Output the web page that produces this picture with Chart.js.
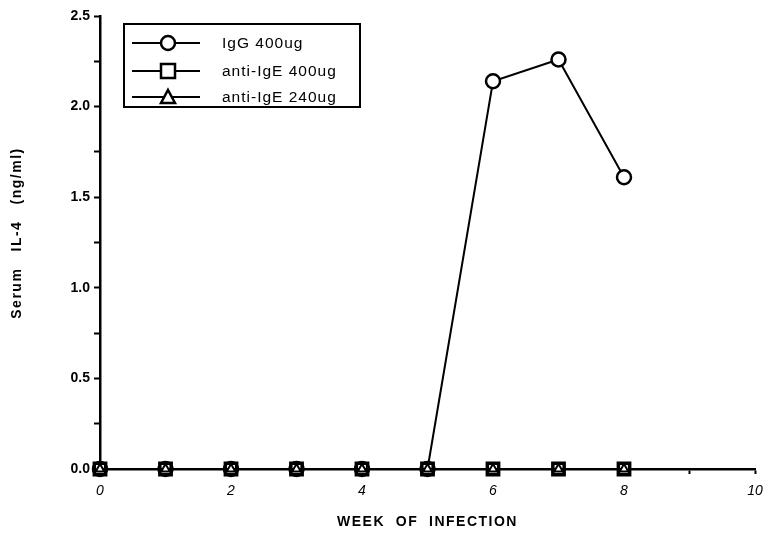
<!DOCTYPE html>
<html>
<head>
<meta charset="utf-8">
<script src="https://cdn.jsdelivr.net/npm/chart.js@4/dist/chart.umd.min.js"></script>
<style>
  html, body { margin: 0; padding: 0; background: #fff; }
  #wrap { width: 765px; height: 539px; }
</style>
</head>
<body>
<div id="wrap"><canvas id="il4Chart"></canvas></div>
<script>
// weeks of infection
const weeks = [0, 1, 2, 3, 4, 5, 6, 7, 8];
// serum IL-4 (ng/ml) per group
const igg400 = [0, 0, 0, 0, 0, 0, 2.14, 2.26, 1.61];
const antiIgE400 = [0, 0, 0, 0, 0, 0, 0, 0, 0];
const antiIgE240 = [0, 0, 0, 0, 0, 0, 0, 0, 0];
const seriesNames = ['IgG 400ug', 'anti-IgE 400ug', 'anti-IgE 240ug'];
const xTickLabels = [0, 2, 4, 6, 8, 10];
const yTickLabels = [0, 0.5, 1.0, 1.5, 2.0, 2.5];
const xTitle = 'WEEK  OF  INFECTION';
const yTitle = 'Serum   IL-4   (ng/ml)';

const FONT = '"Liberation Sans", Arial, sans-serif';

function toPoints(vals) {
    return weeks.map((w, i) => ({ x: w, y: vals[i] }));
}

// legend box + spaced-out axis titles, drawn like the original
const boxLegend = {
    id: 'boxLegend',
    afterDraw(chart) {
        const ctx = chart.ctx;
        const area = chart.chartArea;
        ctx.save();
        ctx.strokeStyle = '#000';
        ctx.lineWidth = 2;
        ctx.strokeRect(124, 24, 236, 83);
        const rows = [43, 71, 97];
        const styles = ['circle', 'rect', 'triangle'];
        rows.forEach((y, i) => {
            ctx.beginPath();
            ctx.moveTo(132, y);
            ctx.lineTo(200, y);
            ctx.lineWidth = 2;
            ctx.stroke();
            ctx.fillStyle = '#fff';
            ctx.lineWidth = 2.5;
            ctx.beginPath();
            if (styles[i] === 'circle') {
                ctx.arc(168, y, 7, 0, Math.PI * 2);
            } else if (styles[i] === 'rect') {
                ctx.rect(161, y - 7, 14, 14);
            } else {
                ctx.moveTo(168, y - 7);
                ctx.lineTo(175, y + 6);
                ctx.lineTo(161, y + 6);
                ctx.closePath();
            }
            ctx.fill();
            ctx.stroke();
            ctx.fillStyle = '#000';
            ctx.font = '15.5px ' + FONT;
            ctx.letterSpacing = '1px';
            ctx.textBaseline = 'middle';
            ctx.fillText(seriesNames[i], 222, y + 1);
            ctx.letterSpacing = '0px';
        });

        // axis titles
        ctx.fillStyle = '#000';
        ctx.font = 'bold 14px ' + FONT;
        ctx.letterSpacing = '1.5px';
        ctx.textAlign = 'center';
        ctx.textBaseline = 'middle';
        ctx.fillText(xTitle, (area.left + area.right) / 2, 522);
        ctx.translate(17, 233);
        ctx.rotate(-Math.PI / 2);
        ctx.fillText(yTitle, 0, 0);
        ctx.restore();
    }
};

const ctx = document.getElementById('il4Chart').getContext('2d');
new Chart(ctx, {
    type: 'line',
    data: {
        datasets: [
            {
                label: seriesNames[0], data: toPoints(igg400), order: 2, clip: false,
                borderColor: '#000', borderWidth: 2, backgroundColor: '#fff',
                pointStyle: 'circle', pointRadius: 7, pointBorderWidth: 2.5
            },
            {
                label: seriesNames[1], data: toPoints(antiIgE400), order: 1, clip: false,
                borderColor: '#000', borderWidth: 2, backgroundColor: '#fff',
                pointStyle: 'rect', pointRadius: 8, pointBorderWidth: 3.5
            },
            {
                label: seriesNames[2], data: toPoints(antiIgE240), order: 0, clip: false,
                borderColor: '#000', borderWidth: 2, backgroundColor: '#fff',
                pointStyle: 'triangle', pointRadius: 5, pointBorderWidth: 2
            }
        ]
    },
    options: {
        responsive: true,
        maintainAspectRatio: false,
        animation: false,
        layout: { autoPadding: false, padding: { left: 0, right: 0, top: 16, bottom: 0 } },
        plugins: { legend: { display: false }, tooltip: { enabled: false } },
        scales: {
            x: {
                type: 'linear', min: 0, max: 10,
                afterFit(scale) {
                    scale.height = 70;
                    // tick padding would otherwise widen the right margin
                    scale.paddingLeft = 0;
                    scale.paddingRight = 10;
                },
                border: { color: '#000', width: 2.5 },
                grid: { drawOnChartArea: false, color: '#000', tickLength: 5, tickWidth: 2 },
                ticks: {
                    stepSize: 1, autoSkip: false, maxRotation: 0, padding: 9, color: '#000',
                    font: { family: FONT, size: 14, style: 'italic' },
                    callback: v => xTickLabels.includes(v) ? String(v) : ''
                },
                title: { display: false }
            },
            y: {
                min: 0, max: 2.5,
                afterFit(scale) { scale.width = 100; },
                border: { color: '#000', width: 2.5 },
                grid: { drawOnChartArea: false, color: '#000', tickLength: 6, tickWidth: 2 },
                ticks: {
                    stepSize: 0.25, autoSkip: false, padding: 4, color: '#000',
                    font: { family: FONT, size: 14, weight: 'bold' },
                    callback: v => yTickLabels.some(t => Math.abs(t - v) < 1e-9) ? v.toFixed(1) : ''
                },
                title: { display: false }
            }
        }
    },
    plugins: [boxLegend]
});
</script>
</body>
</html>
